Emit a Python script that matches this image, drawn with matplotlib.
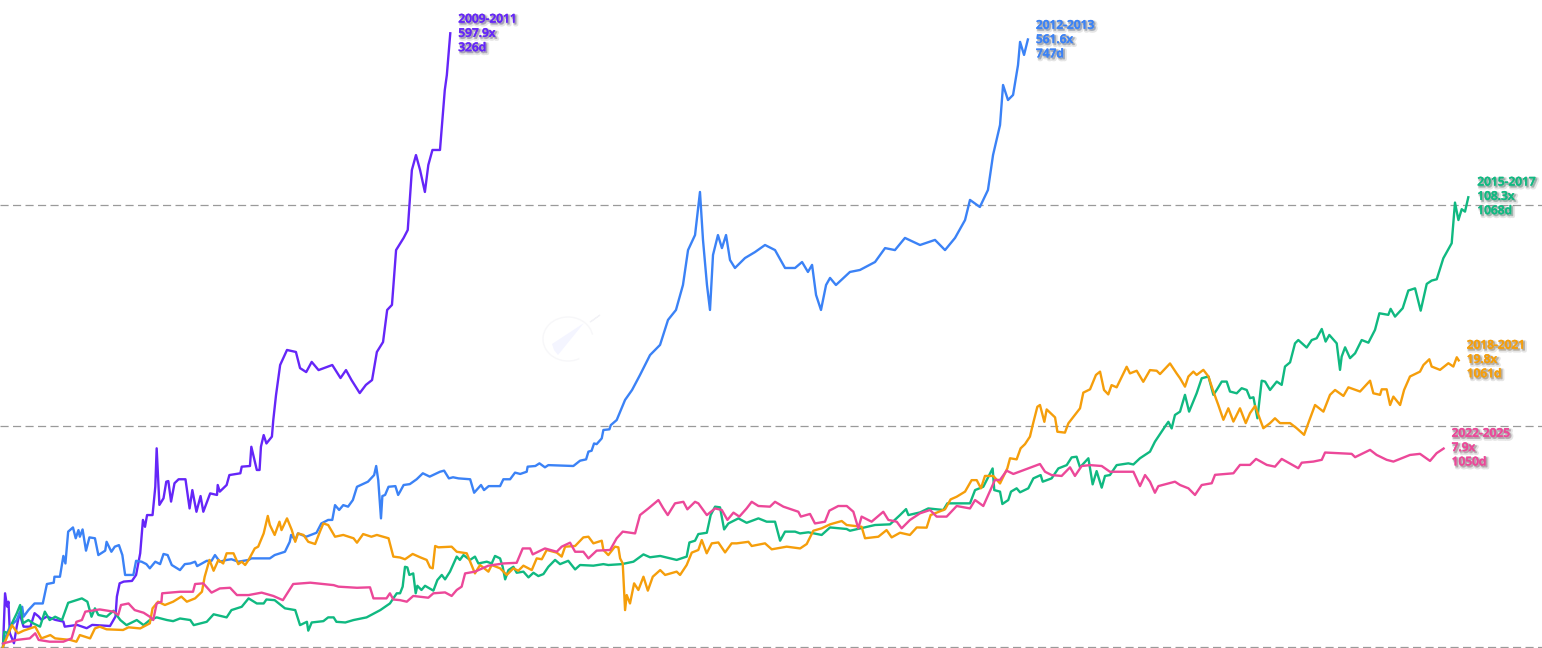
import matplotlib
matplotlib.use("Agg")
import matplotlib.pyplot as plt
import matplotlib.patheffects as pe
from matplotlib.patches import Polygon, Arc
import numpy as np

days_2009 = [0,1.5,3,4,5,8,10,12,15,20,23,26,28,32,38,44,45,54,61,65,78,82,83,85,88,94,97,100,102,103.5,105,109,111,112,114,117,119,120.5,122.5,125,128,133,136,138,141,144,146,151,156,156.5,158,163,165,173,174,180,181,185,187,188,190,192,196,197,199,202,207,213.5,216.5,221,225,230,240,246,250,254,260,264.5,269,272.5,277,280,283.5,286.5,292,295,298,301,304,307.5,310,313,318.5,322,323.5,326]
log_2009 = [0.0,.243,.183,.205,.062,.017,.092,.153,.092,.092,.153,.138,.123,.138,.123,.115,.092,.100,.085,.100,.095,.138,.228,.288,.296,.299,.326,.424,.575,.544,.597,.597,.725,.899,.643,.673,.748,.751,.658,.741,.759,.759,.627,.710,.612,.683,.612,.695,.688,.733,.703,.733,.778,.786,.816,.819,.906,.801,.801,.906,.959,.921,.952,1.027,1.140,1.276,1.344,1.335,1.262,1.244,1.290,1.253,1.276,1.217,1.253,1.208,1.149,1.186,1.208,1.335,1.380,1.525,1.548,1.796,1.851,1.887,2.158,2.226,2.158,2.059,2.181,2.249,2.249,2.520,2.588,2.777]

days_2012 = [0,5,10,14,15,18.5,23,29,32,37,37.5,41.5,44,45.5,47.5,51,53,55,56,58,60.5,63,67,69.5,74.5,75.5,79,81.5,84.5,87,89,95,97,101,104.5,107,111,114.5,117,120,123,129,132.5,136.5,140,141.5,148.5,152,154.5,158,163,166.5,171.5,179,181,194.5,198,205.5,209,210,213,215,221,228.5,232,237,240,242,245,248,251.5,255,258,266,270.5,272,273.5,275.5,276.5,278.5,281,286,288,289.4,292,296.5,301.5,306,311,318.5,321.5,325,328,332,340.5,343.4,348.4,350.6,354,362.3,364.7,369.6,373.2,377,381.7,382.4,388,391,395,397.5,415.7,420.6,425,426.7,429,430.8,432.7,436.4,437.6,442,443,447.3,453.4,458.5,464.3,471.6,478.9,484.7,490.5,495.6,499.3,504.4,508,510.2,513.1,515.3,517.5,521.1,524,527,529.9,533.5,540.8,548.1,555.4,562.7,570,577.3,582.4,586.7,589.7,592.6,596.2,599.9,602.8,607.1,617.3,624.6,635.6,642.9,650.1,657.4,668.4,679.3,686.6,693.9,701.2,704.8,712,717.9,721.6,726.7,728.9,732.5,736.2,739.8,741.3,744.2,747]
log_2012 = [.016,.092,.122,.182,.137,.167,.197,.197,.285,.291,.318,.318,.412,.378,.522,.541,.492,.529,.499,.532,.436,.496,.492,.416,.436,.476,.431,.454,.461,.416,.326,.326,.390,.386,.375,.356,.386,.375,.421,.416,.371,.348,.375,.378,.386,.366,.390,.390,.416,.386,.394,.397,.386,.394,.401,.401,.416,.431,.476,.507,.484,.514,.499,.517,.559,.575,.575,.642,.620,.642,.635,.665,.725,.748,.778,.819,.755,.582,.683,.688,.725,.728,.688,.703,.733,.737,.759,.786,.771,.793,.798,.763,.768,.763,.759,.698,.733,.710,.728,.728,.759,.759,.789,.783,.793,.816,.819,.831,.813,.823,.819,.843,.849,.884,.888,.921,.918,.944,.982,.985,1.004,1.027,1.118,1.163,1.231,1.321,1.367,1.480,1.525,1.638,1.796,1.864,2.059,1.842,1.638,1.525,1.774,1.864,1.805,1.864,1.751,1.715,1.760,1.787,1.819,1.796,1.715,1.715,1.742,1.697,1.729,1.593,1.525,1.638,1.670,1.638,1.697,1.706,1.742,1.805,1.796,1.851,1.819,1.842,1.796,1.851,1.932,2.023,1.991,2.068,2.226,2.362,2.543,2.475,2.498,2.633,2.738,2.679,2.749]

days_2015 = [0,1,4,6.5,10,12.5,14.5,18.5,22,27,30.5,34,38,43,47.5,53.5,57.5,61.5,64.5,67,69.5,75.5,80.5,85.5,90,97.5,102.5,107,112,119.5,124,129,136.5,139,148.5,153.5,163,166.5,174,179,185,190,192,198,205.5,213,216.5,221.5,222.5,225,233.5,237,241,243,249.5,255.5,265,275,282,287,289.4,291.3,293,294.7,296.2,299,300.8,302,305,307.6,313.7,316.6,319.8,322.2,325.8,330.7,333,335.6,340.4,344,346.5,352.6,356.2,358.6,362.3,364.2,366,368.4,372,374.4,379.3,383,386.6,390.2,393.9,397.5,402.4,406,412,417,420.6,430.3,437.6,441.2,451,459.5,466.8,471.6,479,491,498.3,500.3,504.4,506.8,513,515.8,519,522.6,525.6,528.7,536,542,550.6,556.6,562.7,566.4,570,577.3,580.9,587,596.7,602.8,614.9,617.3,635.6,646.5,653.8,658.2,659.9,668.4,672,674.4,685.4,688.3,704.8,708.5,714.5,721.3,722.5,726.7,728.4,732.7,734.7,738.8,741.3,747.3,751,756.3,757.8,764.3,769.2,775.3,778.9,782.5,785,791.1,794.2,797.1,800.8,803.2,806.8,811.7,820.2,823.9,828.7,836,839.6,846.9,849.4,851.8,854.2,857.9,861.5,864.5,870,873.7,878.6,882.2,884.6,888.3,891.9,894.3,899.2,902.8,906.5,908.9,911.4,914.3,917.4,919.9,923.5,928.4,932,934.4,938.1,941.7,944.1,950.2,953.9,957.5,961.2,964,966.7,972.1,974.5,975.7,978.2,981.8,985.5,990.3,995.2,1000,1003.2,1009.7,1011.4,1014.6,1020.2,1024.3,1029.2,1033.3,1037.7,1041.3,1045,1049.8,1055.9,1058.3,1060.8,1063.2,1065.6,1068]
log_2015 = [.001,.069,.062,.107,.152,.190,.107,.122,.107,.092,.160,.122,.137,.122,.200,.212,.220,.205,.137,.175,.145,.137,.164,.122,.099,.122,.099,.122,.134,.122,.117,.129,.122,.099,.114,.148,.134,.167,.182,.220,.197,.197,.215,.212,.175,.167,.099,.114,.074,.111,.117,.134,.134,.114,.111,.122,.134,.167,.197,.243,.243,.273,.363,.360,.326,.333,.243,.277,.258,.277,.255,.303,.326,.306,.341,.409,.394,.416,.394,.409,.378,.386,.378,.412,.401,.363,.306,.348,.363,.336,.341,.315,.336,.321,.330,.363,.394,.375,.390,.351,.371,.368,.375,.371,.375,.386,.419,.406,.412,.394,.409,.473,.481,.511,.517,.597,.635,.632,.532,.559,.582,.562,.582,.567,.567,.481,.522,.522,.514,.519,.507,.541,.534,.526,.552,.555,.597,.624,.597,.609,.620,.627,.620,.650,.650,.710,.725,.808,.710,.703,.647,.665,.703,.718,.700,.718,.763,.778,.748,.763,.808,.823,.858,.861,.813,.854,.736,.796,.721,.774,.778,.823,.831,.826,.854,.884,.929,.997,1.019,.989,1.050,1.065,1.141,1.065,1.148,1.216,1.224,1.141,1.163,1.201,1.201,1.156,1.148,1.171,1.163,1.126,1.130,1.035,1.205,1.201,1.163,1.201,1.186,1.269,1.288,1.374,1.389,1.355,1.389,1.397,1.439,1.382,1.412,1.374,1.254,1.314,1.356,1.307,1.329,1.389,1.377,1.435,1.510,1.503,1.530,1.495,1.533,1.613,1.623,1.522,1.643,1.658,1.664,1.759,1.827,2.011,1.932,1.981,1.970,2.035]

days_2018 = [0,4,6.5,9,11,15,23.5,28,34.5,38,49,53.5,56,63.5,67,70.5,75.5,87.5,91.5,100,107,109,113,118,124,130,134,140,145,147,150.5,153.5,157,160.5,163,168,171.5,174,176.5,179,183.5,186,190,193,194.5,198,201.5,203,207,210.5,213,215,219,222.5,227.5,231,233.5,237,242,248,255.5,258,262.5,268.5,272.5,281,284.5,289.4,293,298.6,304,308.8,311.3,313.2,315,317.3,327,330.7,338,344,347.7,353.8,356.2,362.3,367.2,372,375.6,379.3,385.4,389,392.7,396.3,403.6,407.2,409.7,417,423,426.7,430.3,436.4,437.6,441.2,446,448.5,449.8,451.7,453.4,454.6,457,460,463.1,466.8,470,473.6,479,482.6,491,493.5,498.3,502,506.8,509.3,512.9,516.6,521.4,526.3,531.1,534.8,543.3,545.7,555.4,560.3,571.2,581,585.8,590.6,596.7,602.8,611.3,614.9,625.8,628.3,638,644,647.7,653.8,661,666,673.2,676.1,686.6,690.7,695.1,701.2,706,709.7,712.8,715.7,721.8,726.7,732,734,738.8,741.7,744.9,748.5,750.5,753.9,755.8,759,760.7,766.8,768.5,774,776.5,785,787.4,792.3,796.6,799.6,802.5,805.6,808,811.7,819,821.4,826.3,831.1,836,840.9,843.3,850.6,855.4,857.9,861.5,864,867.6,870,874.9,878.6,882.2,885.8,889.5,893.1,896.8,901.6,905.8,908.9,912.6,918.6,923.5,927.1,930.8,938.1,942.9,948.3,951.4,956.3,962.4,967.2,970.9,977,980.6,989.1,996.4,998.8,1003.7,1004.9,1008.5,1011,1013.4,1018.3,1021.2,1025.5,1032.8,1035.3,1039.6,1041.3,1047.4,1053.5,1057.1,1059.6,1061]
log_2018 = [.001,.062,.099,.077,.062,.074,.092,.039,.054,.039,.032,.024,.054,.039,.084,.092,.080,.077,.089,.084,.107,.175,.205,.190,.205,.228,.205,.220,.250,.318,.394,.345,.394,.378,.424,.424,.375,.386,.371,.394,.446,.454,.514,.593,.552,.507,.567,.529,.582,.529,.476,.514,.507,.476,.466,.522,.559,.552,.499,.507,.492,.472,.511,.499,.507,.492,.409,.405,.397,.421,.406,.394,.360,.356,.457,.451,.454,.431,.424,.333,.371,.341,.371,.356,.326,.356,.345,.368,.348,.401,.397,.439,.427,.409,.454,.457,.496,.499,.469,.481,.439,.416,.454,.451,.401,.378,.167,.235,.197,.288,.258,.318,.255,.318,.348,.326,.341,.326,.371,.427,.439,.484,.424,.469,.473,.428,.469,.469,.476,.457,.469,.442,.454,.446,.466,.526,.537,.555,.570,.552,.544,.492,.499,.529,.496,.517,.507,.541,.540,.597,.623,.668,.680,.703,.755,.755,.718,.774,.774,.740,.808,.854,.849,.899,.918,.952,1.004,1.087,1.095,1.019,1.075,1.039,.974,.970,1.012,1.080,1.151,1.166,1.231,1.246,1.163,1.143,1.185,1.175,1.268,1.238,1.250,1.200,1.253,1.250,1.235,1.283,1.238,1.216,1.178,1.224,1.246,1.231,1.254,1.224,1.156,1.095,1.028,1.080,1.020,1.080,1.013,1.058,1.091,.990,1.013,1.035,1.013,1.013,.990,.960,1.013,1.095,1.065,1.141,1.163,1.136,1.175,1.156,1.205,1.148,1.141,1.166,1.166,1.095,1.133,1.095,1.163,1.224,1.246,1.276,1.302,1.269,1.254,1.284,1.269,1.311,1.297]

days_2022 = [0,5,10,19.5,23.5,26,34,44,50,53.5,57.5,60,70.5,80.5,84,86,91.5,96,102.5,107,109.5,112,115.5,116,129,138.5,140,146,152,158,165.5,170.5,179,188.5,197,204,211.5,224,241,244.5,258,267.5,270,279.5,282,284.5,289.4,294.3,299,310,313.7,322.2,327,330.7,334.3,336.8,344,353.8,364.7,374.4,378.8,384.2,386.1,395,403.6,407.2,413.3,417,423,426.7,432.7,442.5,447.3,451.7,460.7,464.3,470.4,477.7,481.3,484.5,489.8,495.9,498.8,504.4,506.8,513,519,523.9,528,532.4,536.7,542,545.7,550.6,559,562.7,568.8,579.7,581.5,588.2,591.8,599.1,602.3,608.8,615,619.8,623.4,625.8,633.1,641.6,645.3,651.4,655,661.1,668.4,675.7,680.5,687.8,695.1,704.8,708.5,714.5,723,726.7,731.5,736.4,747.3,755.8,759.5,764.3,771.6,777.7,781.3,786.2,792.3,800.8,806.8,823.9,828.7,832.4,836,839.6,842.1,854.2,857.9,864,868.8,873.7,881,883.4,896.8,901.6,908.9,913.3,921.1,927.1,932,944.1,946.6,955.1,961.2,963.6,983,985.5,996.4,1001.2,1008.5,1013.4,1025.5,1032.8,1040.1,1044.9,1050]
log_2022 = [.016,.024,.032,.039,.062,.032,.024,.024,.039,.114,.122,.160,.170,.160,.145,.190,.197,.167,.155,.137,.122,.197,.205,.243,.250,.250,.285,.288,.246,.265,.268,.235,.235,.246,.231,.212,.285,.291,.280,.273,.268,.270,.220,.220,.243,.215,.212,.205,.231,.223,.243,.247,.231,.258,.273,.333,.341,.368,.378,.381,.446,.446,.419,.446,.431,.454,.472,.431,.431,.401,.436,.439,.492,.522,.514,.597,.627,.665,.627,.597,.650,.657,.623,.657,.650,.597,.627,.620,.575,.608,.590,.627,.657,.638,.635,.657,.635,.612,.590,.602,.559,.567,.617,.638,.638,.612,.537,.590,.567,.612,.575,.567,.537,.575,.605,.620,.590,.590,.638,.627,.665,.638,.756,.756,.798,.783,.808,.828,.793,.778,.774,.813,.774,.819,.823,.819,.793,.793,.728,.778,.748,.698,.728,.748,.733,.718,.688,.733,.741,.779,.786,.824,.824,.851,.824,.816,.851,.809,.834,.839,.847,.880,.874,.859,.892,.869,.847,.839,.869,.874,.842,.877,.898]

series_labels = ["2009-2011", "2012-2013", "2015-2017", "2018-2021", "2022-2025"]
multiple_labels = ["597.9x", "561.6x", "108.3x", "19.8x", "7.9x"]
duration_labels = ["326d", "747d", "1068d", "1061d", "1050d"]
reference_levels = [1, 10, 100]

colors = ["#6526F8", "#3B82F6", "#10B981", "#F59E0B", "#EC4899"]
label_offsets = [(8, 0), (8, 0), (9, 1), (8, 1), (8, 1)]
all_days = [days_2009, days_2012, days_2015, days_2018, days_2022]
all_logs = [log_2009, log_2012, log_2015, log_2018, log_2022]

W, H = 1542, 648
fig = plt.figure(figsize=(W / 100, H / 100), dpi=100, facecolor="white")
arc_ax = fig.add_axes([0, 0, 1, 1], zorder=-1)
arc_ax.set_xlim(0, W)
arc_ax.set_ylim(H, 0)
arc_ax.axis("off")
# faint watermark
arc_ax.add_patch(Polygon([(554, 350), (552, 344), (584, 323), (558, 355)], closed=True,
                         facecolor="#f4f5ff", edgecolor="none"))
arc_ax.add_patch(Polygon([(590, 322), (600, 315), (592, 321)], closed=True,
                         facecolor="#f0f0f4", edgecolor="#f2f2f6", lw=0.8))
arc_ax.add_patch(Arc((568, 339), 50, 44, theta1=60, theta2=350, color="#f7f7f9", lw=1.0))

ax = fig.add_axes([0, 0, 1, 1], zorder=1)
ax.patch.set_alpha(0)
ax.set_yscale("log")
ax.set_xlim(-3 / 1.372, (W - 3) / 1.372)
ax.set_ylim(10 ** (-1 / 221), 10 ** (647 / 221))
ax.axis("off")

for level in reference_levels:
    ax.axhline(level, color="#9a9a9a", lw=0.9, dashes=(6.5, 3.5), zorder=1)

for d, l, c, top, mult, dur, off in zip(all_days, all_logs, colors, series_labels,
                                        multiple_labels, duration_labels, label_offsets):
    y = 10 ** np.array(l)
    ax.plot(d, y, color=c, lw=1.7, solid_joinstyle="round", zorder=3)
    txt = f"{top}\n{mult}\n{dur}"
    ax.annotate(txt, xy=(d[-1], y[-1]), xytext=off, textcoords="offset pixels",
                color=c, fontsize=8.6, family="Open Sans", weight="semibold",
                va="center", ha="left", linespacing=1.13, zorder=5,
                path_effects=[
                    pe.Stroke(offset=(1.5, -1.5), linewidth=2.8, foreground="#000000", alpha=0.10),
                    pe.Stroke(offset=(1, -1), linewidth=1.2, foreground="#000000", alpha=0.18),
                    pe.Stroke(linewidth=0.3, foreground=c),
                    pe.Normal(),
                ])

fig.savefig("out.png", dpi=100, facecolor="white")
